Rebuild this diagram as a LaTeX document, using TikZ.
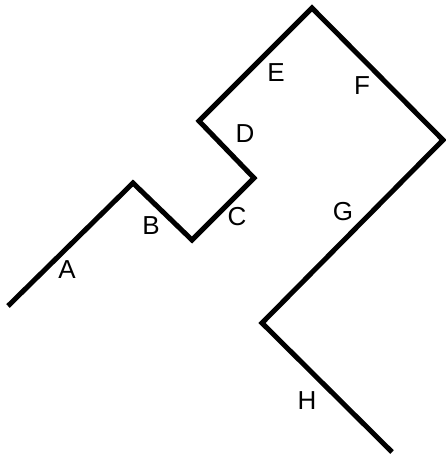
\documentclass[tikz,border=0pt]{standalone}
\usepackage{fontspec}
\setmainfont{Liberation Sans}
\usetikzlibrary{positioning}
\tikzset{
  zzline/.style={draw, line width=5pt, line join=miter, line cap=butt},
  zzlabel/.style={font=\fontsize{26}{30}\selectfont, inner sep=0pt},
}
\begin{document}
\begin{tikzpicture}[x=1pt,y=-1pt]
  \useasboundingbox (0,0) rectangle (446,455);
  \coordinate (p0) at (8,306);
  \coordinate (p1) at (133,183);
  \coordinate (p2) at (192,240);
  \coordinate (p3) at (254,178);
  \coordinate (p4) at (199,121);
  \coordinate (p5) at (312,8);
  \coordinate (p6) at (443,140);
  \coordinate (p7) at (262,323);
  \coordinate (p8) at (392,452);

  \draw[zzline] (p0) -- (p1) -- (p2) -- (p3) -- (p4) -- (p5) -- (p6) -- (p7) -- (p8);

  \node[zzlabel] (la) at (67,270) {A};
  \node[zzlabel] (lb) at (151,226) {B};
  \node[zzlabel] (lc) at (237,217) {C};
  \node[zzlabel] (ld) at (245,134) {D};
  \node[zzlabel] (le) at (276,73) {E};
  \node[zzlabel] (lf) at (362,86) {F};
  \node[zzlabel] (lg) at (343,212) {G};
  \node[zzlabel] (lh) at (307,401) {H};
\end{tikzpicture}
\end{document}
